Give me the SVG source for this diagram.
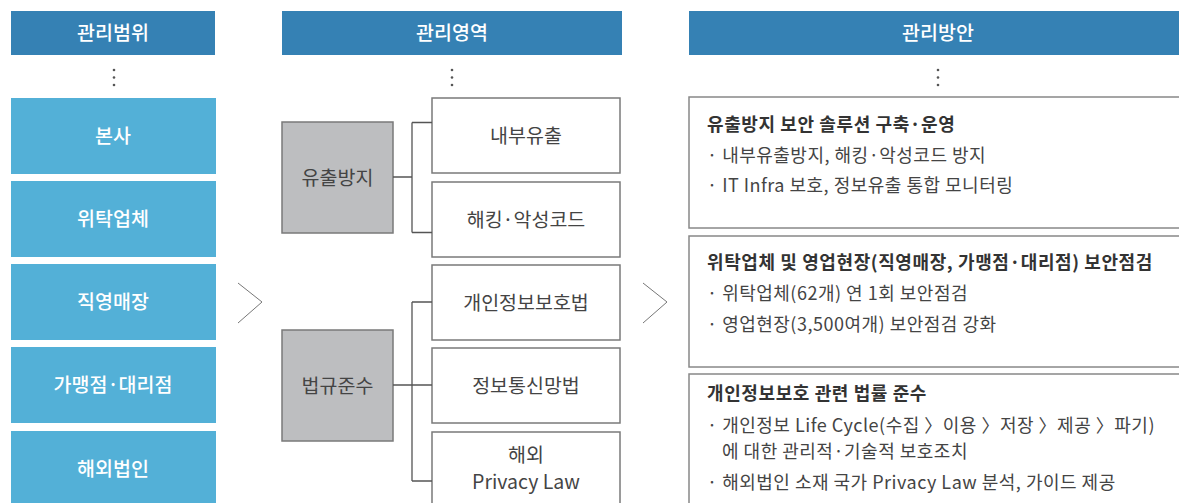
<svg xmlns="http://www.w3.org/2000/svg" width="1179" height="503" viewBox="0 0 1179 503">
<style>
text{font-family:"Noto Sans CJK KR","Noto Sans",sans-serif}
.hd{fill:#3581b4}
.hdt{fill:#fff;font-size:19.5px;font-weight:500;text-anchor:middle}
.bl{fill:#53b0d7}
.blt{fill:#fff;font-size:19.5px;font-weight:500;text-anchor:middle}
.gr{fill:#bdbec0;stroke:#7a7a7a;stroke-width:1.5}
.wb{fill:#fff;stroke:#7a7a7a;stroke-width:1.5}
.mt{fill:#444;font-size:19.5px;text-anchor:middle}
.ln{fill:none;stroke:#555;stroke-width:1.3}
.ch{fill:none;stroke:#777;stroke-width:1}
.rb{fill:#fff;stroke:#888;stroke-width:1.5}
.tt{fill:#333;font-size:18px;font-weight:700;letter-spacing:0.6px}
.bt{fill:#444;font-size:18px;letter-spacing:0.5px}
.dot{fill:#555}
</style>
<g id="headers">
<rect class="hd" x="11" y="11" width="204" height="44"/>
<text class="hdt" x="113" y="40">관리범위</text>
<rect class="hd" x="282" y="11" width="340" height="44"/>
<text class="hdt" x="452" y="40">관리영역</text>
<rect class="hd" x="689" y="11" width="490" height="44"/>
<text class="hdt" x="938" y="40">관리방안</text>
</g>
<g id="dots">
<circle class="dot" cx="114" cy="70" r="1.3"/><circle class="dot" cx="114" cy="77.5" r="1.3"/><circle class="dot" cx="114" cy="85" r="1.3"/>
<circle class="dot" cx="452" cy="70" r="1.3"/><circle class="dot" cx="452" cy="77.5" r="1.3"/><circle class="dot" cx="452" cy="85" r="1.3"/>
<circle class="dot" cx="938" cy="70" r="1.3"/><circle class="dot" cx="938" cy="77.5" r="1.3"/><circle class="dot" cx="938" cy="85" r="1.3"/>
</g>
<g id="scope-hq"><rect class="bl" x="11" y="98" width="205" height="76"/><text class="blt" x="113" y="143">본사</text></g>
<g id="scope-vendor"><rect class="bl" x="11" y="181" width="205" height="76"/><text class="blt" x="113" y="226">위탁업체</text></g>
<g id="scope-store"><rect class="bl" x="11" y="264" width="205" height="76"/><text class="blt" x="113" y="309">직영매장</text></g>
<g id="scope-franchise"><rect class="bl" x="11" y="347" width="205" height="76"/><text class="blt" x="113" y="392">가맹점·대리점</text></g>
<g id="scope-overseas"><rect class="bl" x="11" y="431" width="205" height="72"/><text class="blt" x="113" y="476">해외법인</text></g>
<g id="area-leak"><rect class="gr" x="282" y="122" width="111" height="111"/><text class="mt" x="337.5" y="185">유출방지</text></g>
<g id="area-law"><rect class="gr" x="282" y="330" width="111" height="111"/><text class="mt" x="337.5" y="393">법규준수</text></g>
<g id="area-internal"><rect class="wb" x="432" y="98" width="188" height="75"/><text class="mt" x="526" y="143">내부유출</text></g>
<g id="area-hacking"><rect class="wb" x="432" y="182" width="188" height="75"/><text class="mt" x="526" y="227">해킹·악성코드</text></g>
<g id="area-pipa"><rect class="wb" x="432" y="265" width="188" height="75"/><text class="mt" x="526" y="310">개인정보보호법</text></g>
<g id="area-network"><rect class="wb" x="432" y="348" width="188" height="75"/><text class="mt" x="526" y="393">정보통신망법</text></g>
<g id="area-overseas"><rect class="wb" x="432" y="432" width="188" height="76"/><text class="mt" x="526" y="462">해외</text><text class="mt" x="526" y="489">Privacy Law</text></g>
<g id="connectors">
<path class="ln" d="M393 177H412M412 122.5V232.5M412 122.5H432M412 232.5H432"/>
<path class="ln" d="M393 385H432M412 302V481M412 302H432M412 481H432"/>
<path class="ch" d="M238 283L262 302L238 323"/>
<path class="ch" d="M643 283L667 302L643 323"/>
</g>
<g id="plan-leak">
<rect class="rb" x="689" y="97" width="495" height="131"/>
<text class="tt" x="707" y="131">유출방지 보안 솔루션 구축·운영</text>
<text class="bt" x="707" y="162">· 내부유출방지, 해킹·악성코드 방지</text>
<text class="bt" x="707" y="192">· IT Infra 보호, 정보유출 통합 모니터링</text>
</g>
<g id="plan-audit">
<rect class="rb" x="689" y="236" width="495" height="131"/>
<text class="tt" x="707" y="269">위탁업체 및 영업현장(직영매장, 가맹점·대리점) 보안점검</text>
<text class="bt" x="707" y="300">· 위탁업체(62개) 연 1회 보안점검</text>
<text class="bt" x="707" y="331">· 영업현장(3,500여개) 보안점검 강화</text>
</g>
<g id="plan-law">
<rect class="rb" x="689" y="374" width="495" height="140"/>
<text class="tt" x="707" y="400">개인정보보호 관련 법률 준수</text>
<text class="bt" x="707" y="432">· 개인정보 Life Cycle(수집 〉이용 〉저장 〉제공 〉파기)</text>
<text class="bt" x="722" y="458">에 대한 관리적·기술적 보호조치</text>
<text class="bt" x="707" y="489">· 해외법인 소재 국가 Privacy Law 분석, 가이드 제공</text>
</g>
</svg>
